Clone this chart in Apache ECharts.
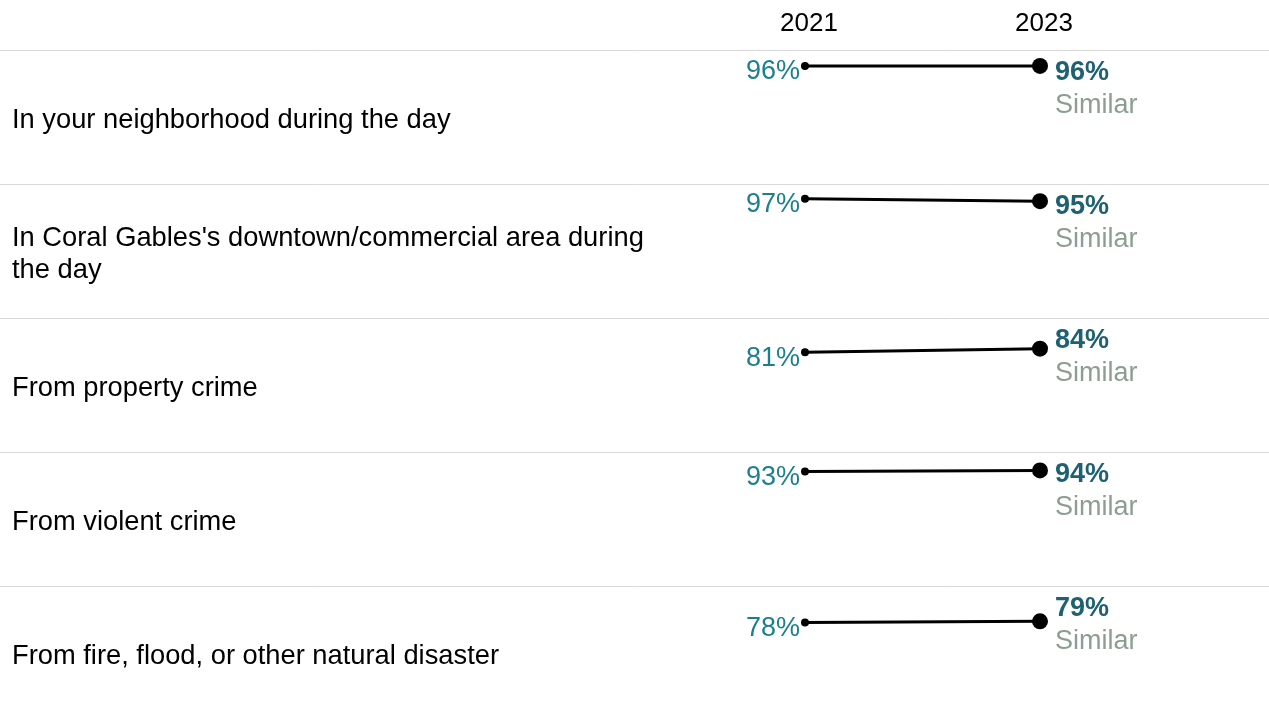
<!DOCTYPE html>
<html>
<head>
<meta charset="utf-8">
<script src="https://cdn.jsdelivr.net/npm/echarts@6/dist/echarts.min.js"></script>
<style>
html,body{margin:0;padding:0;background:#fff;}
#chart{width:1269px;height:713px;}
</style>
</head>
<body>
<div id="chart"></div>
<script>
const categories = [
  'In your neighborhood during the day',
  "In Coral Gables's downtown/commercial area during the day",
  'From property crime',
  'From violent crime',
  'From fire, flood, or other natural disaster'
];
const years = ['2021', '2023'];
const values2021 = [96, 97, 81, 93, 78];
const values2023 = [96, 95, 84, 94, 79];
const comparison = ['Similar', 'Similar', 'Similar', 'Similar', 'Similar'];

const FONT = '"Liberation Sans", Arial, Helvetica, sans-serif';
const ROW0 = 50, ROW_H = 134, GRID_OFF = 11, GRID_H = 123;
const LEFT = 805, RIGHT = 229, W = 1269;
const TEAL = '#1b7f8e', DARK = '#1e6172', GRAY = '#8c9e92';

const chart = echarts.init(document.getElementById('chart'), null, {renderer: 'canvas'});

const grids = [], xAxes = [], yAxes = [], series = [], graphics = [];
categories.forEach((cat, i) => {
  const rowTop = ROW0 + ROW_H * i;
  grids.push({left: LEFT, right: RIGHT, top: rowTop + GRID_OFF, height: GRID_H});
  xAxes.push({
    gridIndex: i, type: 'category', data: years, boundaryGap: false,
    show: i === 0, position: 'top',
    axisLine: {show: false}, axisTick: {show: false}, splitLine: {show: false},
    axisLabel: {interval: 0, margin: 37, color: '#000', fontSize: 26, fontFamily: FONT,
                verticalAlign: 'middle', padding: [0, 0, 0, 8]}
  });
  yAxes.push({gridIndex: i, type: 'value', min: 0, max: 100, show: false});
  series.push({
    type: 'line', xAxisIndex: i, yAxisIndex: i,
    symbol: 'circle',
    lineStyle: {color: '#000', width: 3},
    itemStyle: {color: '#000'},
    data: [
      {value: values2021[i], symbolSize: 8,
       label: {show: true, position: 'left', distance: 1, offset: [0, 6], formatter: '{c}%',
               color: TEAL, fontSize: 27, fontFamily: FONT}},
      {value: values2023[i], symbolSize: 16}
    ],
    emphasis: {disabled: true},
    silent: true
  });
  graphics.push({
    type: 'line', silent: true,
    shape: {x1: 0, y1: rowTop + 0.5, x2: W, y2: rowTop + 0.5},
    style: {stroke: '#d9d9d9', lineWidth: 1}
  });
  graphics.push({
    type: 'text', silent: true,
    x: 12, y: rowTop + ROW_H / 2 + 3,
    style: {text: cat, fill: '#000', font: '27.3px ' + FONT, width: 655, overflow: 'break',
            lineHeight: 32, verticalAlign: 'middle', align: 'left'}
  });
  graphics.push({
    type: 'text', silent: true,
    x: W - RIGHT + 15, y: rowTop + 23,
    style: {text: values2023[i] + '%', fill: DARK, font: 'bold 27px ' + FONT, verticalAlign: 'middle', align: 'left'}
  });
  graphics.push({
    type: 'text', silent: true,
    x: W - RIGHT + 15, y: rowTop + 56,
    style: {text: comparison[i], fill: GRAY, font: '27px ' + FONT, verticalAlign: 'middle', align: 'left'}
  });
});

chart.setOption({
  animation: false,
  grid: grids,
  xAxis: xAxes,
  yAxis: yAxes,
  series: series,
  graphic: graphics
});
</script>
</body>
</html>
